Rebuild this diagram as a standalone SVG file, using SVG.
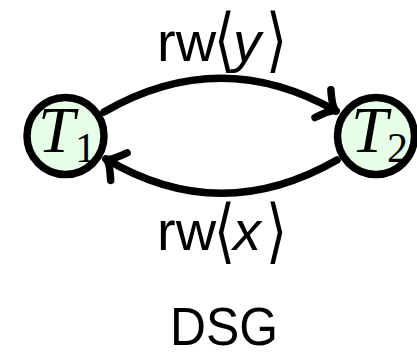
<svg xmlns="http://www.w3.org/2000/svg" width="417" height="357" viewBox="0 0 417 357">
<style>
.node circle{fill:#e6ffe6;stroke:#000;stroke-width:7.5}
.tv{font-family:"Liberation Serif",serif;font-style:italic;font-size:66px;fill:#000}
.sub{font-family:"Liberation Serif",serif;font-size:42px;fill:#000}
.edge{fill:none;stroke:#000;stroke-width:7.5;stroke-linecap:round}
.lbl{font-family:"Liberation Sans",sans-serif;font-size:56px;fill:#000}
.it{font-style:italic}
.br{font-family:"DejaVu Sans",sans-serif;font-size:54px;fill:#000}
.title{font-family:"Liberation Sans",sans-serif;font-size:54px;fill:#000}
</style>
<defs>
<marker id="arr" markerUnits="userSpaceOnUse" markerWidth="40" markerHeight="40" refX="0" refY="0" viewBox="-22 -20 26 40" orient="auto" overflow="visible">
<path d="M -15,-16 Q -5,-1 0,0 Q -5,1 -15,16" fill="none" stroke="#000" stroke-width="7.5" stroke-linecap="round" stroke-linejoin="round"/>
</marker>
</defs>
<g id="edges">
<path class="edge" d="M 104,112 Q 220,45 336,111" marker-end="url(#arr)"/>
<path class="edge" d="M 337,160 Q 220,227 106,159" marker-end="url(#arr)"/>
<g id="label-top">
<text class="lbl" x="157" y="61">rw</text>
<text class="br" transform="translate(214,64) scale(1,1.3)">⟨</text>
<text class="lbl it" x="233" y="61">y</text>
<text class="br" transform="translate(266,64) scale(1,1.3)">⟩</text>
</g>
<g id="label-bottom">
<text class="lbl" x="157" y="250">rw</text>
<text class="br" transform="translate(214,255) scale(1,1.3)">⟨</text>
<text class="lbl it" x="233" y="250">x</text>
<text class="br" transform="translate(266,255) scale(1,1.3)">⟩</text>
</g>
</g>
<g id="T1" class="node">
<circle cx="65.5" cy="136" r="38.5"/>
<text class="tv" x="38" y="152">T</text>
<text class="sub" x="75" y="162">1</text>
</g>
<g id="T2" class="node">
<circle cx="376" cy="136" r="38.5"/>
<text class="tv" x="351" y="152">T</text>
<text class="sub" x="387" y="162">2</text>
</g>
<g id="title">
<text class="title" x="170" y="345" textLength="108" lengthAdjust="spacingAndGlyphs">DSG</text>
</g>
</svg>
